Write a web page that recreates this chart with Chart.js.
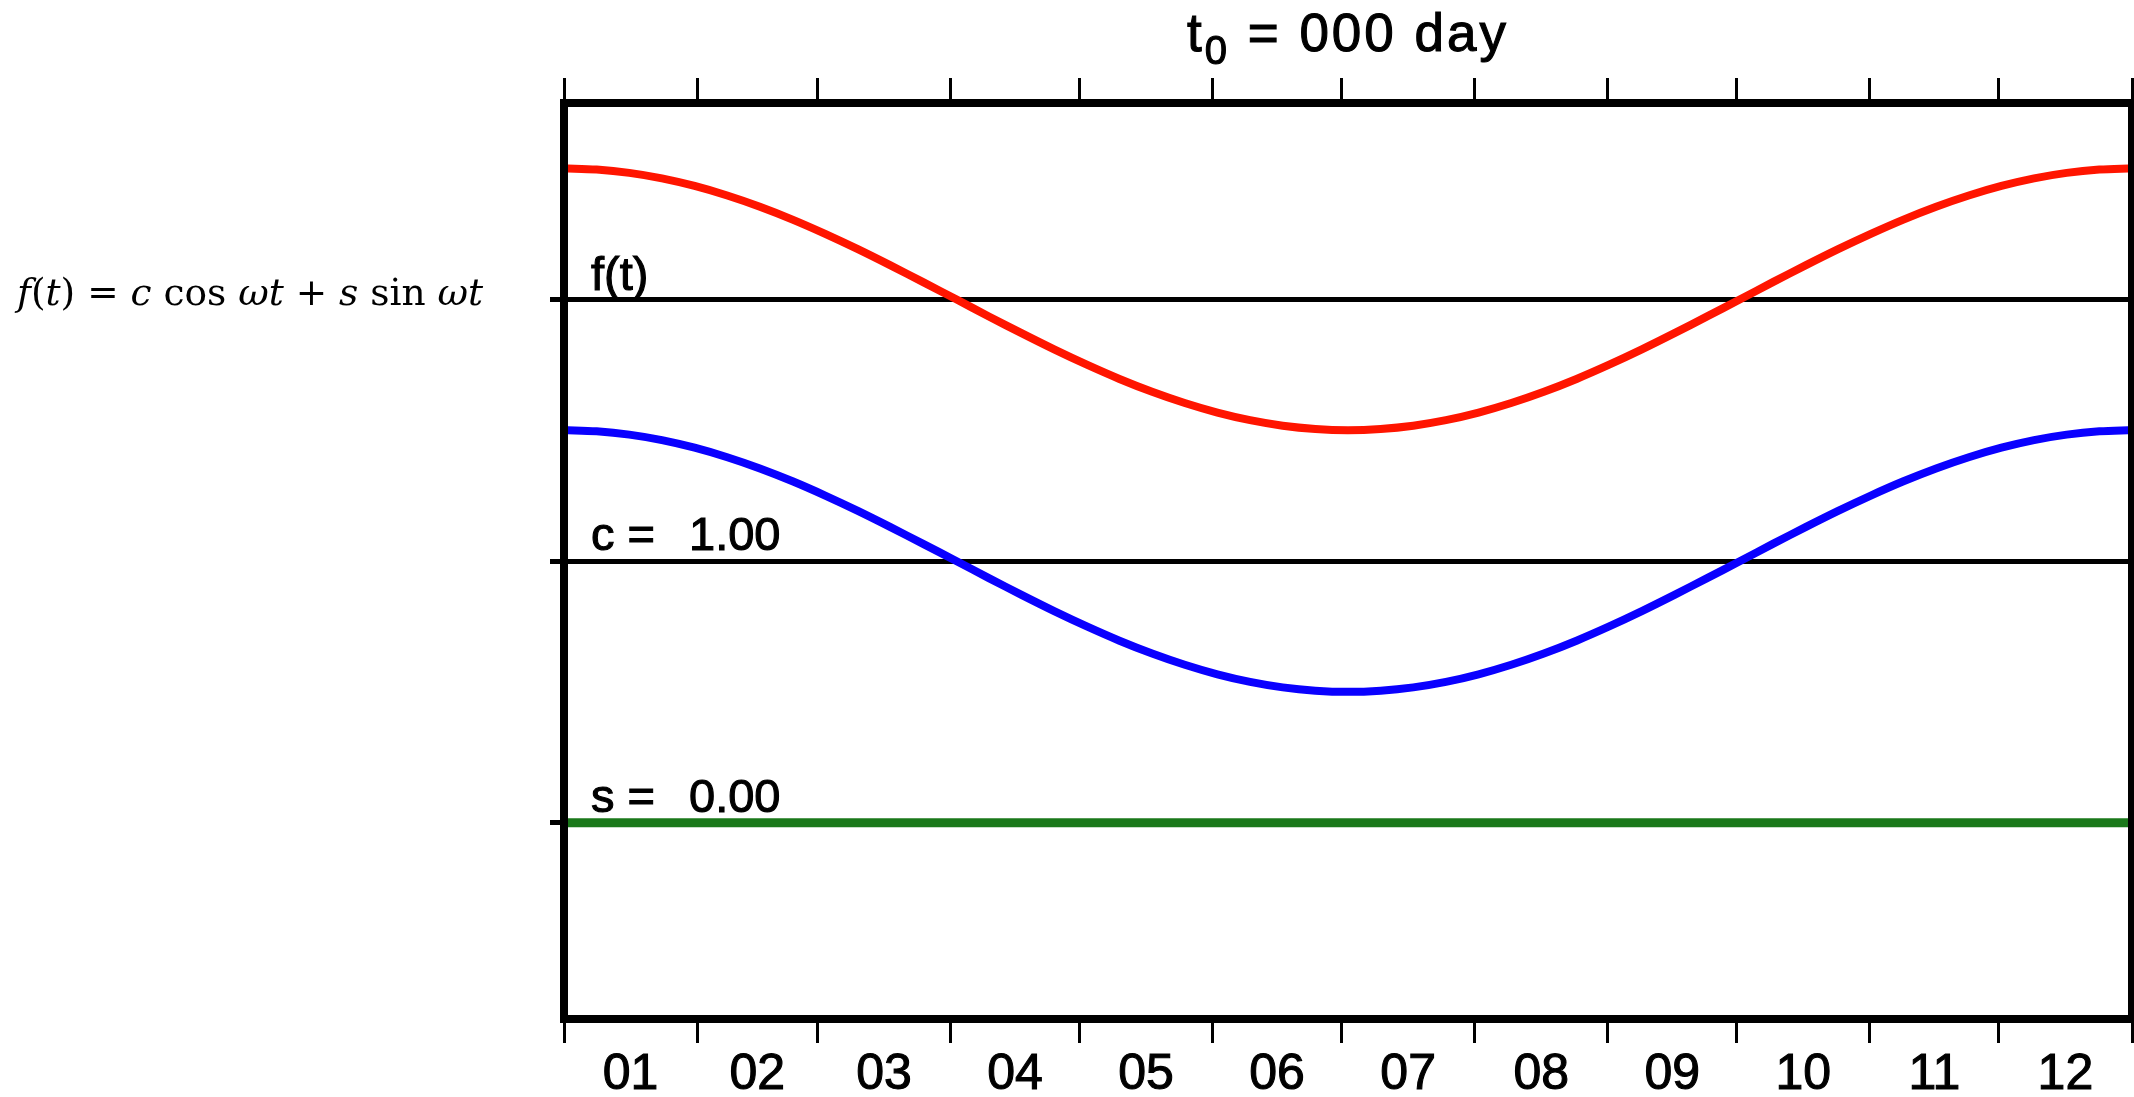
<!DOCTYPE html>
<html>
<head>
<meta charset="utf-8">
<title>t0 = 000 day</title>
<script src="https://cdn.jsdelivr.net/npm/chart.js@4.4.1/dist/chart.umd.min.js"></script>
<style>
  html, body { margin: 0; padding: 0; background: #fff; }
  #chart { display: block; }
</style>
</head>
<body>
<canvas id="chart" width="2134" height="1097"></canvas>
<script>
// Harmonic term demo: f(t) = c cos wt + s sin wt

const T0_DAY = "000";
const COEF_C = 1.00;
const COEF_S = 0.00;

// first day of each month (day of year), last entry = year end
const MONTH_STARTS = [0, 31, 59, 90, 120, 151, 181, 212, 243, 273, 304, 334, 365];
const MONTH_LABELS = ["01", "02", "03", "04", "05", "06", "07", "08", "09", "10", "11", "12"];

// sample days and the values (-1 .. 1)
const DAYS = [
  0, 7.6, 15.2, 22.8, 30.4, 38.0, 45.6, 53.2, 60.8, 68.4, 76.0, 83.6,
  91.3, 98.9, 106.5, 114.1, 121.7, 129.3, 136.9, 144.5, 152.1, 159.7, 167.3, 174.9,
  182.5, 190.1, 197.7, 205.3, 212.9, 220.5, 228.1, 235.7, 243.3, 250.9, 258.5, 266.1,
  273.8, 281.4, 289.0, 296.6, 304.2, 311.8, 319.4, 327.0, 334.6, 342.2, 349.8, 357.4, 365,
];
const F_VALUES = [
  1.000, 0.991, 0.966, 0.924, 0.866, 0.793, 0.707, 0.609, 0.500, 0.383, 0.259, 0.131,
  0.000, -0.131, -0.259, -0.383, -0.500, -0.609, -0.707, -0.793, -0.866, -0.924, -0.966, -0.991,
  -1.000, -0.991, -0.966, -0.924, -0.866, -0.793, -0.707, -0.609, -0.500, -0.383, -0.259, -0.131,
  0.000, 0.131, 0.259, 0.383, 0.500, 0.609, 0.707, 0.793, 0.866, 0.924, 0.966, 0.991, 1.000,
];
const C_VALUES = [
  1.000, 0.991, 0.966, 0.924, 0.866, 0.793, 0.707, 0.609, 0.500, 0.383, 0.259, 0.131,
  0.000, -0.131, -0.259, -0.383, -0.500, -0.609, -0.707, -0.793, -0.866, -0.924, -0.966, -0.991,
  -1.000, -0.991, -0.966, -0.924, -0.866, -0.793, -0.707, -0.609, -0.500, -0.383, -0.259, -0.131,
  0.000, 0.131, 0.259, 0.383, 0.500, 0.609, 0.707, 0.793, 0.866, 0.924, 0.966, 0.991, 1.000,
];
const S_VALUES = [
  0, 0, 0, 0, 0, 0, 0, 0, 0, 0, 0, 0,
  0, 0, 0, 0, 0, 0, 0, 0, 0, 0, 0, 0,
  0, 0, 0, 0, 0, 0, 0, 0, 0, 0, 0, 0,
  0, 0, 0, 0, 0, 0, 0, 0, 0, 0, 0, 0, 0,
];

// each term sits on its own row, curves drawn at half a row of amplitude
const ROW_F = 2;
const ROW_C = 1;
const ROW_S = 0;
const AMP = 0.5;

const SANS = "'Liberation Sans', Arial, Helvetica, sans-serif";
const SERIF = "'DejaVu Serif', 'Liberation Serif', serif";

function rowPoints(values, row) {
  return DAYS.map((d, i) => ({ x: d, y: row + AMP * values[i] }));
}

// mid-month positions carry the month labels
const midMonths = MONTH_LABELS.map((_, i) => (MONTH_STARTS[i] + MONTH_STARTS[i + 1]) / 2);

function curve(label, values, row, color, width) {
  return {
    label,
    data: rowPoints(values, row),
    borderColor: color,
    borderWidth: width,
    pointRadius: 0,
    fill: false,
    tension: 0.33,
    clip: -4,
  };
}

function heavyText(ctx, text, x, y) {
  ctx.fillText(text, x, y);
  ctx.strokeText(text, x, y);
}

// ===== Text drawn around the frame =====
const annotations = {
  id: "annotations",
  afterDraw(chart) {
    const { ctx, chartArea, scales } = chart;
    const y = scales.y;
    ctx.save();
    ctx.fillStyle = "#000";
    ctx.strokeStyle = "#000";
    ctx.lineWidth = 1.1;
    ctx.textBaseline = "alphabetic";
    ctx.textAlign = "left";

    // row labels
    ctx.font = "47px " + SANS;
    const lx = chartArea.left + 27;
    const nx = chartArea.left + 125;
    heavyText(ctx, "f(t)", lx, y.getPixelForValue(ROW_F) - 9);
    heavyText(ctx, "c =", lx, y.getPixelForValue(ROW_C) - 11);
    heavyText(ctx, COEF_C.toFixed(2), nx, y.getPixelForValue(ROW_C) - 11);
    heavyText(ctx, "s =", lx, y.getPixelForValue(ROW_S) - 11);
    heavyText(ctx, COEF_S.toFixed(2), nx, y.getPixelForValue(ROW_S) - 11);

    // title: t0 = 000 day
    const big = "53px " + SANS;
    const small = "40px " + SANS;
    ctx.letterSpacing = "3px";
    const parts = [
      { t: "t", f: big, dy: 0 },
      { t: "0", f: small, dy: 13 },
      { t: " = " + T0_DAY + " day", f: big, dy: 0 },
    ];
    let total = 0;
    parts.forEach((p) => { ctx.font = p.f; total += ctx.measureText(p.t).width; });
    let tx = (chartArea.left + chartArea.right) / 2 - total / 2;
    parts.forEach((p) => {
      ctx.font = p.f;
      heavyText(ctx, p.t, tx, 51 + p.dy);
      tx += ctx.measureText(p.t).width;
    });
    ctx.letterSpacing = "0px";

    // formula on the left
    const it = "italic 37.5px " + SERIF;
    const up = "37.5px " + SERIF;
    const formula = [
      ["f", it], ["(", up], ["t", it], [")", up], [" = ", up], ["c", it],
      [" cos ", up], ["ωt", it], [" + ", up], ["s", it], [" sin ", up], ["ωt", it],
    ];
    let fx = 17;
    formula.forEach(([t, f]) => {
      ctx.font = f;
      ctx.fillText(t, fx, 305);
      fx += ctx.measureText(t).width;
    });
    ctx.restore();
  },
};

const ctx = document.getElementById("chart").getContext("2d");
new Chart(ctx, {
  type: "line",
  data: {
    datasets: [
      curve("f(t)", F_VALUES, ROW_F, "#ff1500", 8),
      curve("c cos", C_VALUES, ROW_C, "#0a00ff", 8),
      curve("s sin", S_VALUES, ROW_S, "#1a781a", 9),
    ],
  },
  options: {
    responsive: false,
    animation: false,
    layout: { padding: { left: 550, top: 82, right: 2, bottom: 0 } },
    plugins: { legend: { display: false }, tooltip: { enabled: false }, title: { display: false } },
    scales: {
      x: {
        type: "linear",
        position: "bottom",
        min: 0,
        max: 365,
        afterBuildTicks: (s) => {
          s.ticks = MONTH_STARTS.concat(midMonths).sort((a, b) => a - b).map((v) => ({ value: v }));
        },
        afterFit: (s) => { s.height = 78; },
        grid: {
          drawOnChartArea: false,
          tickLength: 24,
          lineWidth: 3,
          color: (c) => (c.tick && MONTH_STARTS.includes(c.tick.value) ? "#000" : "rgba(0,0,0,0)"),
        },
        border: { display: true, color: "#000", width: 8 },
        ticks: {
          autoSkip: false,
          maxRotation: 0,
          padding: 2,
          color: "#000",
          textStrokeColor: "#000",
          textStrokeWidth: 1.1,
          font: { family: SANS, size: 50 },
          callback: (v) => {
            const i = midMonths.indexOf(v);
            return i >= 0 ? MONTH_LABELS[i] : "";
          },
        },
      },
      xTop: {
        type: "linear",
        position: "top",
        min: 0,
        max: 365,
        afterBuildTicks: (s) => { s.ticks = MONTH_STARTS.map((v) => ({ value: v })); },
        afterFit: (s) => { s.height = 21; },
        grid: { drawOnChartArea: false, tickLength: 25, lineWidth: 3, color: "#000" },
        border: { display: true, color: "#000", width: 8 },
        ticks: { display: false },
      },
      y: {
        type: "linear",
        position: "left",
        min: -0.75,
        max: 2.75,
        afterBuildTicks: (s) => { s.ticks = [ROW_S, ROW_C, ROW_F].map((v) => ({ value: v })); },
        afterFit: (s) => { s.width = 14; },
        grid: { drawOnChartArea: true, tickLength: 14, lineWidth: 5, color: "#000" },
        border: { display: true, color: "#000", width: 8 },
        ticks: { display: false },
      },
      yRight: {
        type: "linear",
        position: "right",
        min: -0.75,
        max: 2.75,
        afterFit: (s) => { s.width = 0; },
        grid: { display: false },
        border: { display: true, color: "#000", width: 8 },
        ticks: { display: false },
      },
    },
  },
  plugins: [annotations],
});
</script>
</body>
</html>
